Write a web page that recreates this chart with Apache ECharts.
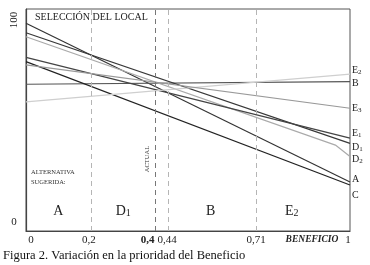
<!DOCTYPE html>
<html>
<head>
<meta charset="utf-8">
<script src="https://cdn.jsdelivr.net/npm/echarts@6/dist/echarts.min.js"></script>
<style>
  html, body { margin: 0; padding: 0; background: #fff; }
  #chart { width: 370px; height: 265px; }
</style>
</head>
<body>
<div id="chart"></div>
<script>
// datos (prioridad 0-100 vs. peso del beneficio 0-1)
var alternativas = ['A', 'B', 'C', 'D1', 'D2', 'E1', 'E2', 'E3'];
var enCero = [93.6, 66.1, 76.3, 89.3, 87.5, 78.2, 58.2, 74.8];
var enUno  = [22.1, 67.3, 20.7, 39.5, 33.6, 41.8, 70.7, 55.3];
// D2 se junta con D1/E1 antes del final y luego baja
var quiebreD2 = [0.955, 38.7];
var colores = ['#333', '#555', '#222', '#383838', '#aaa', '#444', '#cfcfcf', '#999'];

var cortes = [0.2, 0.4, 0.44, 0.71];
var xEtiquetas = ['0', '0,2', '0,4', '0,44', '0,71', '1'];
var xValores = [0, 0.2, 0.4, 0.44, 0.71, 1];
var yEtiquetas = ['0', '100'];
var sugeridas = ['A', 'D1', 'B', 'E2'];

var myChart = echarts.init(document.getElementById('chart'));
var serif = '"Liberation Serif", "DejaVu Serif", serif';

var series = alternativas.map(function (nombre, i) {
    var datos = [[0, enCero[i]], [1, enUno[i]]];
    if (nombre === 'D2') datos = [[0, enCero[i]], quiebreD2, [1, enUno[i]]];
    return {
        name: nombre,
        type: 'line',
        data: datos,
        symbol: 'none',
        silent: true,
        lineStyle: { color: colores[i], width: 1.2 },
        z: 3
    };
});

// lineas verticales punteadas
series.push({
    type: 'line',
    data: [],
    markLine: {
        symbol: 'none',
        silent: true,
        label: { show: false },
        data: cortes.map(function (c) {
            return {
                xAxis: c,
                lineStyle: { color: c === 0.4 ? '#777' : '#b5b5b5', type: [5, 4], width: 1 }
            };
        })
    }
});

myChart.setOption({
    animation: false,
    grid: { left: 26, right: 20, top: 9, bottom: 34, show: true, borderColor: '#555', borderWidth: 1 },
    xAxis: {
        type: 'value', min: 0, max: 1,
        axisLine: { lineStyle: { color: '#444', width: 1.2 } },
        axisTick: { show: false }, axisLabel: { show: false }, splitLine: { show: false }
    },
    yAxis: {
        type: 'value', min: 0, max: 100,
        axisLine: { show: true, lineStyle: { color: '#444', width: 1.2 } },
        axisTick: { show: false }, axisLabel: { show: false }, splitLine: { show: false }
    },
    series: series
});

function px(x, y) { return myChart.convertToPixel({ gridIndex: 0 }, [x, y]); }

var rich = {
    n: { fontFamily: serif, fontSize: 10, fill: '#222' },
    s: { fontFamily: serif, fontSize: 7, fill: '#222', padding: [4, 0, 0, 0] }
};
function conSub(t) { return t.length > 1 ? '{n|' + t[0] + '}{s|' + t.slice(1) + '}' : '{n|' + t + '}'; }

var g = [];
// titulo
g.push({ type: 'text', left: 35, top: 12, style: { text: 'SELECCIÓN DEL LOCAL', font: '10px ' + serif, fill: '#222' } });
// etiquetas eje x
var xp = px(0, 0)[1];
xValores.forEach(function (v, i) {
    var p = px(v, 0);
    var al = 'center', dx = 0, f = '11px ' + serif;
    if (v === 0) dx = 5;
    if (v === 0.2) dx = -2;
    if (v === 0.4) { al = 'right'; dx = -1; f = 'bold 11px ' + serif; }
    if (v === 0.44) { al = 'left'; dx = -11; }
    if (v === 1) dx = -2;
    g.push({ type: 'text', x: p[0] + dx, y: xp + 9, style: { text: xEtiquetas[i], font: f, fill: '#222', align: al, verticalAlign: 'middle' } });
});
g.push({ type: 'text', x: 312, y: xp + 9, style: { text: 'BENEFICIO', font: 'italic bold 9.5px ' + serif, fill: '#222', align: 'center', verticalAlign: 'middle' } });
// etiquetas eje y
g.push({ type: 'text', x: 14, y: px(0, 0)[1] - 9, style: { text: yEtiquetas[0], font: '11px ' + serif, fill: '#222', align: 'center', verticalAlign: 'middle' } });
g.push({ type: 'text', x: 14, y: 20, rotation: Math.PI / 2, style: { text: yEtiquetas[1], font: '11px ' + serif, fill: '#222', align: 'center', verticalAlign: 'middle' } });
// etiquetas a la derecha
var yDerecha = { E2: 70, B: 83, E3: 108, E1: 133, D1: 147, D2: 159, A: 179, C: 195 };
alternativas.forEach(function (a) {
    g.push({ type: 'text', x: 352, y: yDerecha[a], style: { text: conSub(a), rich: rich, verticalAlign: 'middle' } });
});
// alternativa sugerida
g.push({ type: 'text', x: 31, y: 172, style: { text: 'ALTERNATIVA', font: '6.5px ' + serif, fill: '#333', verticalAlign: 'middle' } });
g.push({ type: 'text', x: 31, y: 182, style: { text: 'SUGERIDA:', font: '6.5px ' + serif, fill: '#333', verticalAlign: 'middle' } });
g.push({ type: 'text', x: 147, y: 159, rotation: Math.PI / 2, style: { text: 'ACTUAL', font: '6.5px ' + serif, fill: '#333', align: 'center', verticalAlign: 'middle' } });
var xRegion = [0.1, 0.3, 0.57, 0.82];
var richG = {
    n: { fontFamily: serif, fontSize: 14, fill: '#222' },
    s: { fontFamily: serif, fontSize: 10, fill: '#222', padding: [5, 0, 0, 0] }
};
sugeridas.forEach(function (s, i) {
    var p = px(xRegion[i], 0);
    var t = s.length > 1 ? '{n|' + s[0] + '}{s|' + s.slice(1) + '}' : '{n|' + s + '}';
    g.push({ type: 'text', x: p[0], y: 211, style: { text: t, rich: richG, align: 'center', verticalAlign: 'middle' } });
});
// pie de figura
g.push({ type: 'text', left: 3, top: 249, style: { text: 'Figura 2. Variación en la prioridad del Beneficio', font: '12.5px ' + serif, fill: '#111' } });

myChart.setOption({ graphic: g });
</script>
</body>
</html>
